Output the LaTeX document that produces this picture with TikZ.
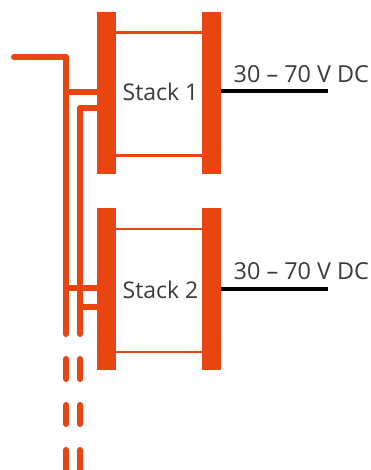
\documentclass[tikz,border=0pt]{standalone}
\usepackage{fontspec}
\setmainfont{Open Sans}
\definecolor{stackorange}{HTML}{E84511}
\definecolor{labelgray}{HTML}{3A3A3A}
\tikzset{
    plate/.style={fill=stackorange, minimum width=19pt, minimum height=162pt, inner sep=0pt},
    rung/.style={stackorange, line width=2.4pt},
    feed/.style={stackorange, line width=6pt},
    bus/.style={stackorange, line width=6pt, line cap=round},
    dcout/.style={black, line width=4pt},
    stacklabel/.style={text=labelgray, font=\fontsize{23}{27}\selectfont, inner sep=0pt},
    dclabel/.style={text=labelgray, font=\fontsize{23.4}{27}\selectfont, inner sep=0pt, anchor=west}
}
\begin{document}
\begin{tikzpicture}[x=1pt, y=-1pt]
    \useasboundingbox (0,0) rectangle (371,470);

    \node[plate] (left1) at (106.5,93) {};
    \node[plate] (right1) at (211.5,93) {};
    \node[plate] (left2) at (106.5,289.2) {};
    \node[plate] (right2) at (211.5,289.2) {};

    \node[stacklabel] (stack1) at (160.5,92) {Stack 1};
    \node[stacklabel] (stack2) at (160.5,290) {Stack 2};
    \node[dclabel] (volt1) at (233.5,74) {30 – 70 V DC};
    \node[dclabel] (volt2) at (233.5,271) {30 – 70 V DC};

    \coordinate (out1) at (328,91.5);
    \coordinate (out2) at (328,289);
    \coordinate (start) at (14,57);
    \coordinate (bendA) at (66,57);
    \coordinate (bendB) at (80,108);
    \coordinate (endA) at (66,334);
    \coordinate (endB) at (80,334);

    % rungs
    \draw[rung] ([yshift=60.5pt]left1.east) -- ([yshift=60.5pt]right1.west);
    \draw[rung] ([yshift=-62.5pt]left1.east) -- ([yshift=-62.5pt]right1.west);
    \draw[rung] ([yshift=60.5pt]left2.east) -- ([yshift=60.5pt]right2.west);
    \draw[rung] ([yshift=-62.5pt]left2.east) -- ([yshift=-62.5pt]right2.west);

    % dc outputs
    \draw[dcout] (right1.east |- out1) -- (out1);
    \draw[dcout] (right2.east |- out2) -- (out2);

    % supply lines
    \draw[bus, line join=round] (start) -- (bendA) -- (endA);
    \draw[bus, line join=round] (left1.west |- bendB) -- (bendB) -- (endB);
    \draw[feed] (bendA |- 0,92) -- (left1.west |- 0,92);
    \draw[feed] (bendA |- 0,288) -- (left2.west |- 0,288);
    \draw[feed] (bendB |- 0,307) -- (left2.west |- 0,307);

    % dashes
    \draw[bus] (66,359) -- (66,379);
    \draw[bus] (80,359) -- (80,379);
    \draw[bus] (66,405) -- (66,424);
    \draw[bus] (80,405) -- (80,424);
    \draw[bus] (66,450) -- (66,475);
    \draw[bus] (80,450) -- (80,475);
\end{tikzpicture}
\end{document}
